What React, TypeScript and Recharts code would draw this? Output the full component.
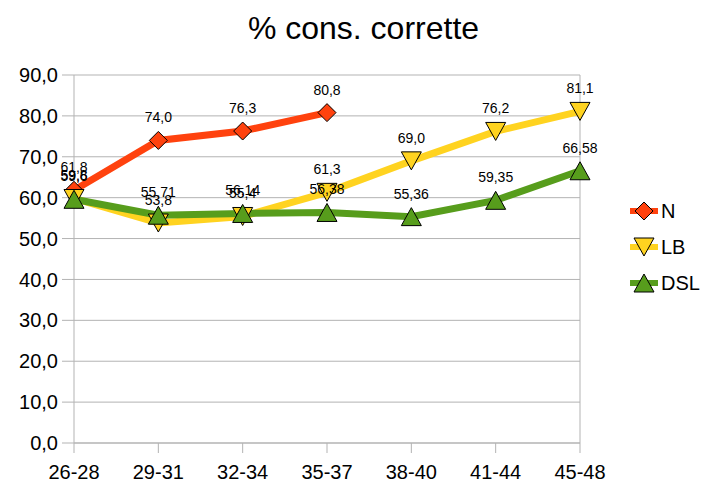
import { CartesianGrid, LabelList, Line, LineChart, ReferenceLine, XAxis, YAxis } from "recharts";

const categories = ["26-28", "29-31", "32-34", "35-37", "38-40", "41-44", "45-48"];
const nValues: (number | null)[] = [61.8, 74.0, 76.3, 80.8, null, null, null];
const lbValues = [59.8, 53.8, 55.4, 61.3, 69.0, 76.2, 81.1];
const dslValues = [59.6, 55.71, 56.14, 56.38, 55.36, 59.35, 66.58];
const yTicks = [0, 10, 20, 30, 40, 50, 60, 70, 80, 90];

const data = categories.map((cat, i) => ({
  cat,
  N: nValues[i],
  LB: lbValues[i],
  DSL: dslValues[i],
}));

const colors = { N: "#ff420e", LB: "#ffd320", DSL: "#579d1c" };
const font = "'Liberation Sans', Arial, sans-serif";

const oneDecimal = (v: any) => (v == null ? "" : Number(v).toFixed(1).replace(".", ","));
const plain = (v: any) => (v == null ? "" : String(v).replace(".", ","));

function Diamond({ cx, cy, fill }: any) {
  if (cx == null || cy == null) return null;
  const s = 9;
  return <path d={`M${cx},${cy - s}L${cx + s},${cy}L${cx},${cy + s}L${cx - s},${cy}Z`} fill={fill} stroke="#000" strokeWidth={1} />;
}

function TriDown({ cx, cy, fill }: any) {
  if (cx == null || cy == null) return null;
  return <path d={`M${cx - 10},${cy - 9}L${cx + 10},${cy - 9}L${cx},${cy + 9}Z`} fill={fill} stroke="#000" strokeWidth={1} />;
}

function TriUp({ cx, cy, fill }: any) {
  if (cx == null || cy == null) return null;
  return <path d={`M${cx - 10},${cy + 9}L${cx + 10},${cy + 9}L${cx},${cy - 9}Z`} fill={fill} stroke="#000" strokeWidth={1} />;
}

function LegendBox() {
  const items = [
    { name: "N", color: colors.N, Mark: Diamond },
    { name: "LB", color: colors.LB, Mark: TriDown },
    { name: "DSL", color: colors.DSL, Mark: TriUp },
  ];
  return (
    <div style={{ position: "absolute", left: 630, top: 193, fontFamily: font, fontSize: 20 }}>
      {items.map(({ name, color, Mark }) => (
        <div key={name} style={{ display: "flex", alignItems: "center", height: 36 }}>
          <svg width={28} height={22}>
            <rect x={0} y={8} width={28} height={6} fill={color} />
            <Mark cx={14} cy={11} fill={color} />
          </svg>
          <span style={{ marginLeft: 3 }}>{name}</span>
        </div>
      ))}
    </div>
  );
}

export default function App() {
  return (
    <div style={{ position: "absolute", left: 0, top: 0, width: 701, height: 488, background: "#fff" }}>
      <div
        style={{
          position: "absolute",
          left: 0,
          top: 10,
          width: 727,
          textAlign: "center",
          fontFamily: font,
          fontSize: 32,
        }}
      >
        % cons. corrette
      </div>
      <LineChart width={701} height={488} data={data} margin={{ top: 75, right: 121, bottom: 5, left: 14 }}>
        <CartesianGrid vertical={false} stroke="#b3b3b3" />
        <ReferenceLine x="45-48" stroke="#b3b3b3" />
        <XAxis
          dataKey="cat"
          height={40}
          stroke="#b3b3b3"
          tickSize={10}
          tick={{ fill: "#000", fontSize: 20, fontFamily: font, dy: 10 }}
          interval={0}
        />
        <YAxis
          width={60}
          domain={[0, 90]}
          ticks={yTicks}
          stroke="#b3b3b3"
          tickSize={12}
          tickMargin={4}
          tickFormatter={oneDecimal}
          tick={{ fill: "#000", fontSize: 20, fontFamily: font }}
        />
        <Line dataKey="N" stroke={colors.N} strokeWidth={7} dot={<Diamond fill={colors.N} />} isAnimationActive={false}>
          <LabelList dataKey="N" position="top" offset={18} formatter={oneDecimal} style={{ fill: "#000", fontSize: 14, fontFamily: font }} />
        </Line>
        <Line dataKey="LB" stroke={colors.LB} strokeWidth={7} dot={<TriDown fill={colors.LB} />} isAnimationActive={false}>
          <LabelList dataKey="LB" position="top" offset={18} formatter={oneDecimal} style={{ fill: "#000", fontSize: 14, fontFamily: font }} />
        </Line>
        <Line dataKey="DSL" stroke={colors.DSL} strokeWidth={7} dot={<TriUp fill={colors.DSL} />} isAnimationActive={false}>
          <LabelList dataKey="DSL" position="top" offset={18} formatter={plain} style={{ fill: "#000", fontSize: 14, fontFamily: font }} />
        </Line>
      </LineChart>
      <LegendBox />
    </div>
  );
}
